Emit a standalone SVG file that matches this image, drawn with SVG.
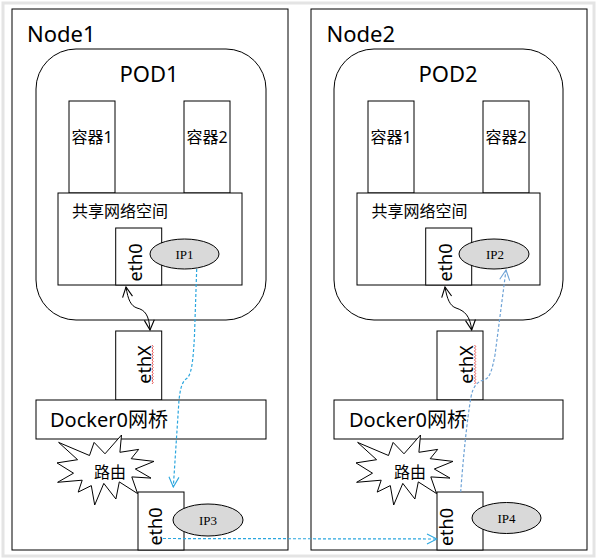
<svg xmlns="http://www.w3.org/2000/svg" width="598" height="560" viewBox="0 0 598 560">
<defs>
<style>
.box{fill:#fff;stroke:#000;stroke-width:1}
.ip{fill:#d9d9d9;stroke:#000;stroke-width:1}
.t{font-family:"Noto Sans","Noto Sans CJK SC",sans-serif;fill:#000}
.big{font-size:22px}
.mid{font-size:20px}
.cn{font-size:16px}
.eth{font-size:18px}
.ipt{font-family:"Liberation Serif",serif;font-size:13px;fill:#000}
.c{text-anchor:middle}
.blk{fill:none;stroke:#000;stroke-width:1}
.d1{fill:none;stroke:#2ba6de;stroke-width:1.2;stroke-dasharray:3 2}
.d2{fill:none;stroke:#6fa3d6;stroke-width:1.2;stroke-dasharray:3 2}
.sq{fill:none;stroke:#e04848;stroke-width:0.9}
</style>
<marker id="va" viewBox="0 0 12 12" refX="11" refY="6" markerWidth="12" markerHeight="12" markerUnits="userSpaceOnUse" orient="auto-start-reverse">
<path d="M1,1 L11,6 L1,11" fill="none" stroke="#000" stroke-width="1.1"/>
</marker>
<marker id="vb1" viewBox="0 0 12 12" refX="11" refY="6" markerWidth="12" markerHeight="12" markerUnits="userSpaceOnUse" orient="auto">
<path d="M1,1 L11,6 L1,11" fill="none" stroke="#2ba6de" stroke-width="1.1"/>
</marker>
<marker id="vb2" viewBox="0 0 12 12" refX="11" refY="6" markerWidth="12" markerHeight="12" markerUnits="userSpaceOnUse" orient="auto">
<path d="M1,1 L11,6 L1,11" fill="none" stroke="#6fa3d6" stroke-width="1.1"/>
</marker>
<polygon id="burst" points="48,18.8 64.5,0 62.9,17.3 81.7,14.4 74.2,23.7 97,26.4 78.3,34 94,43.1 74.8,41.9 80.6,58.6 62.3,46.9 58.9,64 46.8,48.4 37.7,70 34.3,50.6 21.2,57.1 25.2,45.2 0.6,47.3 16.5,38.2 0,27.9 20.6,24.7 1.6,7.4 32.5,20.5 37.1,7.4" fill="#fff" stroke="#000" stroke-width="1"/>
</defs>
<rect x="0" y="0" width="598" height="560" fill="#fff"/>
<rect x="3" y="3" width="591" height="553" fill="none" stroke="#e4e4e4" stroke-width="3"/>

<g id="node1">
<rect class="box" x="12" y="9" width="276" height="541"/>
<text class="t big" x="27" y="42">Node1</text>
</g>
<g id="pod1">
<rect class="box" x="36" y="49" width="230" height="271" rx="40" ry="40"/>
<text class="t big c" x="149" y="82">POD1</text>
</g>
<g id="n1-container1">
<rect class="box" x="69" y="101" width="46" height="92"/>
<text class="t cn c" x="92" y="143">容器1</text>
</g>
<g id="n1-container2">
<rect class="box" x="184" y="101" width="46" height="92"/>
<text class="t cn c" x="207" y="143">容器2</text>
</g>
<g id="n1-netns">
<rect class="box" x="58" y="193" width="184" height="92"/>
<text class="t cn" x="72" y="217">共享网络空间</text>
</g>
<g id="n1-pod-eth0">
<rect class="box" x="115.7" y="228" width="46" height="57"/>
<text class="t eth c" transform="translate(141.5,262.5) rotate(-90)">eth0</text>
</g>
<g id="n1-ip1">
<ellipse class="ip" cx="184.5" cy="254" rx="34.5" ry="15"/>
<text class="ipt c" x="184.5" y="258.5">IP1</text>
</g>
<g id="n1-ethx">
<rect class="box" x="115.7" y="331" width="46" height="69"/>
<text class="t eth c" transform="translate(150.5,364.5) rotate(-90)">ethX</text>
<path class="sq" d="M152,345 l1.2,1.5 l-1.2,1.5 l1.2,1.5 l-1.2,1.5 l1.2,1.5 l-1.2,1.5 l1.2,1.5 l-1.2,1.5 l1.2,1.5 l-1.2,1.5 l1.2,1.5 l-1.2,1.5 l1.2,1.5 l-1.2,1.5 l1.2,1.5 l-1.2,1.5 l1.2,1.5 l-1.2,1.5 l1.2,1.5 l-1.2,1.5 l1.2,1.5 l-1.2,1.5 l1.2,1.5 l-1.2,1.5 l1.2,1.5 l-1.2,1.5"/>
</g>
<g id="n1-docker0">
<rect class="box" x="36" y="400" width="230" height="39"/>
<text class="t mid" x="50" y="427">Docker0网桥</text>
</g>
<g id="n1-route">
<use href="#burst" x="57" y="435"/>
<text class="t cn c" x="110" y="478">路由</text>
</g>
<g id="n1-host-eth0">
<rect class="box" x="138" y="492" width="46" height="58"/>
<text class="t eth c" transform="translate(161.5,526.5) rotate(-90)">eth0</text>
</g>
<g id="n1-ip3">
<ellipse class="ip" cx="208" cy="520" rx="35" ry="16"/>
<text class="ipt c" x="208" y="524.5">IP3</text>
</g>

<g id="node2">
<rect class="box" x="311" y="9" width="276" height="541"/>
<text class="t big" x="326.5" y="42">Node2</text>
</g>
<g id="pod2">
<rect class="box" x="334" y="49" width="229" height="271" rx="40" ry="40"/>
<text class="t big c" x="448" y="82">POD2</text>
</g>
<g id="n2-container1">
<rect class="box" x="368" y="101" width="46" height="92"/>
<text class="t cn c" x="391" y="143">容器1</text>
</g>
<g id="n2-container2">
<rect class="box" x="483" y="101" width="46" height="92"/>
<text class="t cn c" x="506" y="143">容器2</text>
</g>
<g id="n2-netns">
<rect class="box" x="357" y="193" width="183" height="92"/>
<text class="t cn" x="371.5" y="217">共享网络空间</text>
</g>
<g id="n2-pod-eth0">
<rect class="box" x="425.7" y="228" width="46" height="57"/>
<text class="t eth c" transform="translate(452,262.5) rotate(-90)">eth0</text>
</g>
<g id="n2-ip2">
<ellipse class="ip" cx="494" cy="254" rx="35" ry="15"/>
<text class="ipt c" x="495" y="258.5">IP2</text>
</g>
<g id="n2-ethx">
<rect class="box" x="437" y="331" width="46" height="69"/>
<text class="t eth c" transform="translate(473,364.5) rotate(-90)">ethX</text>
<path class="sq" d="M474.5,345 l1.2,1.5 l-1.2,1.5 l1.2,1.5 l-1.2,1.5 l1.2,1.5 l-1.2,1.5 l1.2,1.5 l-1.2,1.5 l1.2,1.5 l-1.2,1.5 l1.2,1.5 l-1.2,1.5 l1.2,1.5 l-1.2,1.5 l1.2,1.5 l-1.2,1.5 l1.2,1.5 l-1.2,1.5 l1.2,1.5 l-1.2,1.5 l1.2,1.5 l-1.2,1.5 l1.2,1.5 l-1.2,1.5 l1.2,1.5 l-1.2,1.5"/>
</g>
<g id="n2-docker0">
<rect class="box" x="334" y="400" width="229" height="39"/>
<text class="t mid" x="349" y="427">Docker0网桥</text>
</g>
<g id="n2-route">
<use href="#burst" x="356" y="435"/>
<text class="t cn c" x="410" y="478">路由</text>
</g>
<g id="n2-host-eth0">
<rect class="box" x="437" y="492" width="46" height="58"/>
<text class="t eth c" transform="translate(453,527) rotate(-90)">eth0</text>
</g>
<g id="n2-ip4">
<ellipse class="ip" cx="506.5" cy="518" rx="34.5" ry="15.5"/>
<text class="ipt c" x="506.5" y="522.5">IP4</text>
</g>

<g id="connectors">
<path class="blk" d="M126,287 C128,300 131,306 137,308 C145,310 149,315 150,330" marker-start="url(#va)" marker-end="url(#va)"/>
<path class="blk" d="M445,287 C447,299 450,306 456,308 C465,311 470,316 471.7,330" marker-start="url(#va)" marker-end="url(#va)"/>
<path class="d1" d="M196.7,269 L194.5,335 C193,365 191,376 186,379 C181,383 180,392 179,400 L173.3,487" marker-end="url(#vb1)"/>
<path class="d1" d="M163,538.5 L437,539" marker-end="url(#vb1)"/>
<path class="d2" d="M460.7,492 C463,460 467,420 471,397 C473,386 478,381 484,380 C490,378 492,370 495,355 L506,270" marker-end="url(#vb2)"/>
</g>
</svg>
